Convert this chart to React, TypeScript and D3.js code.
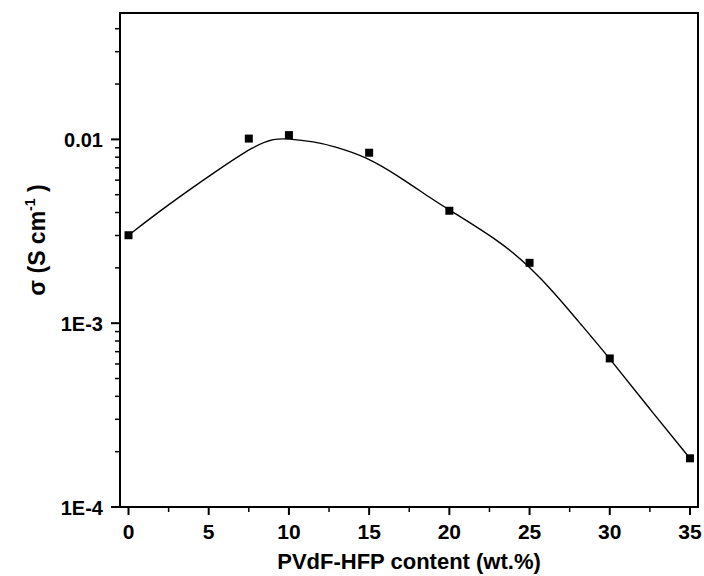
import React from "react";
import * as d3 from "d3";

const contents = [0, 7.5, 10, 15, 20, 25, 30, 35];
const conductivity = [3.01e-3, 1.01e-2, 1.055e-2, 8.46e-3, 4.09e-3, 2.13e-3, 6.43e-4, 1.84e-4];

const fitX = [0, 2.3, 5.4, 7.9, 9.1, 9.9, 11.6, 12.75, 14.85, 16.9, 19, 20, 23.2, 25, 26.5, 28.15, 30, 32.3, 35];
const fitY = [3.01e-3, 4.3e-3, 6.66e-3, 9.31e-3, 1.01e-2, 1.01e-2, 9.71e-3, 9.2e-3, 8.04e-3, 6.26e-3, 4.68e-3, 4.13e-3, 2.77e-3, 2.03e-3, 1.48e-3, 9.98e-4, 6.43e-4, 3.58e-4, 1.84e-4];

const xMajorTicks = [0, 5, 10, 15, 20, 25, 30, 35];
const xMinorTicks = [2.5, 7.5, 12.5, 17.5, 22.5, 27.5, 32.5];
const yMajorTicks = [1e-4, 1e-3, 1e-2];
const yMajorLabels = ["1E-4", "1E-3", "0.01"];

const W = 704, H = 576;
const L = 120, R = 698, T = 13, B = 507;
const FONT = "Liberation Sans, Arial, Helvetica, sans-serif";

export default function App() {
  const x = d3.scaleLinear().domain([-0.53, 35.5]).range([L, R]);
  const y = d3.scaleLog().domain([1e-4, 0.0487]).range([B, T]);

  const yMinor: number[] = [];
  for (const dec of [1e-4, 1e-3, 1e-2]) {
    for (let k = 2; k <= 9; k++) {
      const v = dec * k;
      if (v < 0.0487) yMinor.push(v);
    }
  }

  const fitPts = fitX.map((v, i) => [v, fitY[i]] as [number, number]);
  const line = d3
    .line<[number, number]>()
    .x((d) => x(d[0]))
    .y((d) => y(d[1]))
    .curve(d3.curveBasis);

  const ms = 8;

  return (
    <svg width={W} height={H} style={{ position: "absolute", left: 0, top: 0, background: "#fff" }}>
      <rect x={0} y={0} width={W} height={H} fill="#fff" />
      {/* fit curve */}
      <path d={line(fitPts) || ""} fill="none" stroke="#000" strokeWidth={1.4} />
      {/* markers */}
      {contents.map((c, i) => (
        <rect key={i} x={x(c) - ms / 2} y={y(conductivity[i]) - ms / 2} width={ms} height={ms} fill="#000" />
      ))}
      {/* frame */}
      <rect x={L} y={T} width={R - L} height={B - T} fill="none" stroke="#000" strokeWidth={2} />
      {/* x ticks */}
      {xMajorTicks.map((t) => (
        <g key={"xm" + t}>
          <line x1={x(t)} x2={x(t)} y1={B} y2={B + 8} stroke="#000" strokeWidth={2} />
          <text
            x={x(t)}
            y={539}
            textAnchor="middle"
            fontFamily={FONT}
            fontWeight="bold"
            fontSize={21}
          >
            {t}
          </text>
        </g>
      ))}
      {xMinorTicks.map((t) => (
        <line key={"xn" + t} x1={x(t)} x2={x(t)} y1={B} y2={B + 5} stroke="#000" strokeWidth={1.5} />
      ))}
      {/* y ticks */}
      {yMajorTicks.map((t, i) => (
        <g key={"ym" + t}>
          <line x1={L - 9} x2={L} y1={y(t)} y2={y(t)} stroke="#000" strokeWidth={2} />
          <text
            x={103}
            y={y(t) + 8}
            textAnchor="end"
            fontFamily={FONT}
            fontWeight="bold"
            fontSize={20}
          >
            {yMajorLabels[i]}
          </text>
        </g>
      ))}
      {yMinor.map((t) => (
        <line key={"yn" + t} x1={L - 5} x2={L} y1={y(t)} y2={y(t)} stroke="#000" strokeWidth={1.5} />
      ))}
      {/* x title */}
      <text
        x={(L + R) / 2}
        y={569}
        textAnchor="middle"
        fontFamily={FONT}
        fontWeight="bold"
        fontSize={22}
      >
        PVdF-HFP content (wt.%)
      </text>
      {/* y title */}
      <text
        transform={`translate(45, 240) rotate(-90)`}
        textAnchor="middle"
        fontFamily={FONT}
        fontWeight="bold"
        fontSize={23}
      >
        <tspan>σ (S cm</tspan>
        <tspan dy={-10} fontSize={14}>-1</tspan>
        <tspan dy={10}> )</tspan>
      </text>
    </svg>
  );
}
